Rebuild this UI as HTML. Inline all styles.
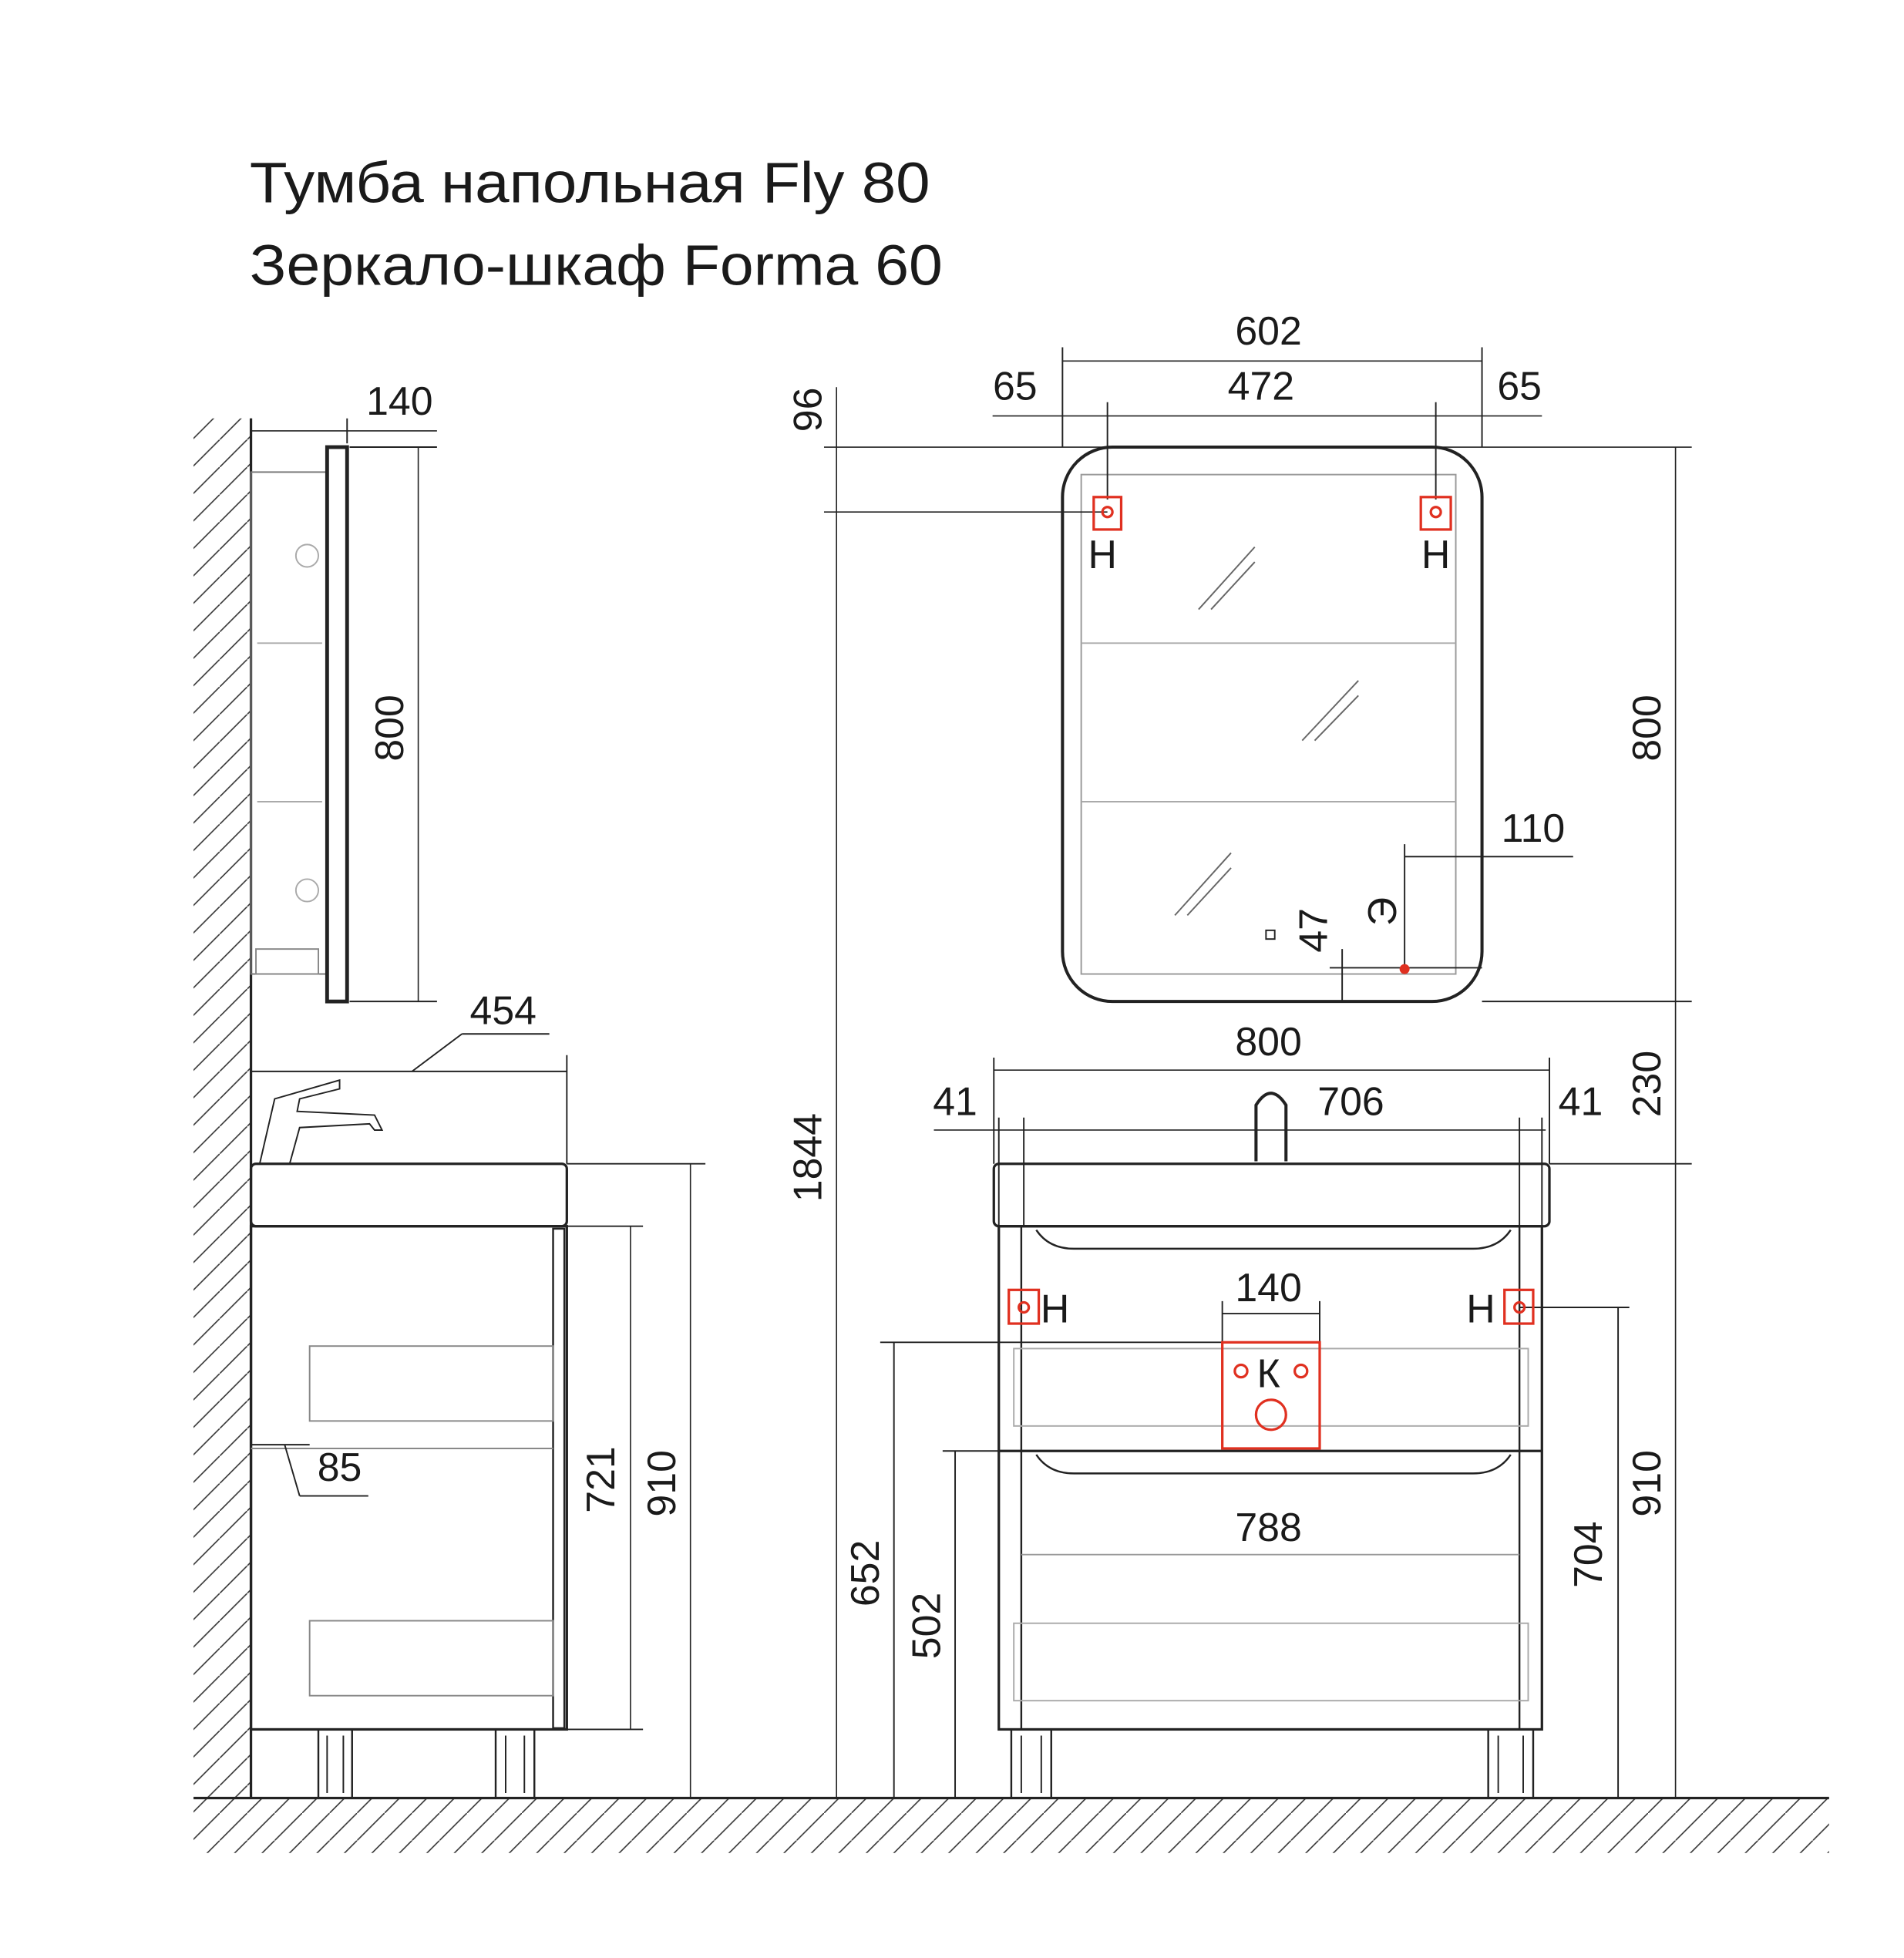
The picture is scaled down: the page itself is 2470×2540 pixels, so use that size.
<!DOCTYPE html>
<html><head><meta charset="utf-8"><style>
html,body{margin:0;padding:0;background:#fff}
svg{display:block}
text{font-family:"Liberation Sans","DejaVu Sans",sans-serif;fill:#1a1a1a}
</style></head><body>
<svg width="2470" height="2540" viewBox="0 0 1525 1568" xmlns="http://www.w3.org/2000/svg">
<defs>
<pattern id="h" width="22" height="22" patternUnits="userSpaceOnUse"><path d="M0 22 L22 0" stroke="#333" stroke-width="1"/></pattern>
</defs>
<rect width="1525" height="1568" fill="#fff"/>
<text x="200" y="162" font-size="46" textLength="545" lengthAdjust="spacingAndGlyphs">Тумба напольная Fly 80</text>
<text x="200" y="228" font-size="46" textLength="555" lengthAdjust="spacingAndGlyphs">Зеркало-шкаф Forma 60</text>

<rect x="155" y="335" width="46" height="1105" fill="url(#h)"/>
<line x1="201" y1="335" x2="201" y2="1440" stroke="#222" stroke-width="2"/>
<rect x="155" y="1440" width="1310" height="44" fill="url(#h)"/>
<line x1="155" y1="1440" x2="1465" y2="1440" stroke="#222" stroke-width="2"/>

<g stroke="#222" fill="none" stroke-width="1.2">
<rect x="201" y="378" width="61" height="402" stroke="#777"/>
<rect x="262" y="358" width="16" height="444" stroke-width="3"/>
<line x1="206" y1="515" x2="258" y2="515" stroke="#aaa"/>
<line x1="206" y1="642" x2="258" y2="642" stroke="#aaa"/>
<circle cx="246" cy="445" r="9" stroke="#aaa"/><circle cx="246" cy="713" r="9" stroke="#aaa"/>
<rect x="205" y="760" width="50" height="20" stroke="#888"/>
<line x1="201" y1="345" x2="350" y2="345" stroke-width="1"/>
<line x1="201" y1="335" x2="201" y2="355"/><line x1="278" y1="335" x2="278" y2="355"/>
<line x1="335" y1="358" x2="335" y2="802" stroke-width="1"/>
<line x1="280" y1="358" x2="350" y2="358"/><line x1="280" y1="802" x2="350" y2="802"/>
<line x1="201" y1="858" x2="454" y2="858"/><line x1="330" y1="858" x2="370" y2="828"/><line x1="370" y1="828" x2="440" y2="828"/>
<line x1="454" y1="845" x2="454" y2="932"/>
<path d="M208 932 L220 880 L272 865 L272 872 L240 880 L238 890 L300 893 L306 905 L300 905 L296 900 L240 903 L232 932"/>
<rect x="201" y="932" width="253" height="50" rx="4" stroke-width="2"/>
<rect x="201" y="982" width="253" height="403" stroke-width="2"/>
<rect x="443" y="984" width="9" height="400" stroke-width="1.5"/>
<rect x="248" y="1078" width="195" height="60" stroke="#888"/>
<rect x="248" y="1298" width="195" height="60" stroke="#888"/>
<line x1="201" y1="1160" x2="443" y2="1160" stroke="#888"/>
<rect x="255" y="1385" width="27" height="55" stroke-width="1.5"/>
<path d="M262 1390 V1436 M275 1390 V1436"/>
<rect x="397" y="1385" width="31" height="55" stroke-width="1.5"/>
<path d="M405 1390 V1436 M420 1390 V1436"/>
<line x1="553" y1="932" x2="553" y2="1440" stroke-width="1"/>
<line x1="454" y1="932" x2="565" y2="932"/>
<line x1="505" y1="982" x2="505" y2="1385" stroke-width="1"/>
<line x1="454" y1="982" x2="515" y2="982"/><line x1="454" y1="1385" x2="515" y2="1385"/>
<line x1="201" y1="1157" x2="248" y2="1157"/><line x1="228" y1="1157" x2="240" y2="1198"/><line x1="240" y1="1198" x2="295" y2="1198"/>

<rect x="851" y="358" width="336" height="444" rx="40" stroke-width="2.5"/>
<rect x="866" y="380" width="300" height="400" stroke="#999"/>
<line x1="866" y1="515" x2="1166" y2="515" stroke="#aaa"/>
<line x1="866" y1="642" x2="1166" y2="642" stroke="#aaa"/>
<path d="M960 488 L1005 438 M970 488 L1005 450 M1043 593 L1088 545 M1053 593 L1088 557 M941 733 L986 683 M951 733 L986 695" stroke="#666"/>
<rect x="1014" y="745" width="7" height="7"/>
<line x1="851" y1="289" x2="1187" y2="289" stroke-width="1"/>
<line x1="851" y1="278" x2="851" y2="358"/><line x1="1187" y1="278" x2="1187" y2="358"/>
<line x1="795" y1="333" x2="1235" y2="333" stroke-width="1"/>
<line x1="887" y1="322" x2="887" y2="400"/><line x1="1150" y1="322" x2="1150" y2="400"/>
<line x1="660" y1="358" x2="1355" y2="358" stroke-width="1"/>
<line x1="660" y1="410" x2="887" y2="410" stroke-width="1"/>
<line x1="670" y1="310" x2="670" y2="1440" stroke-width="1"/>
<line x1="1342" y1="358" x2="1342" y2="1440" stroke-width="1"/>
<line x1="1125" y1="686" x2="1260" y2="686"/><line x1="1125" y1="676" x2="1125" y2="780"/>
<line x1="1065" y1="775" x2="1187" y2="775"/>
<line x1="1075" y1="760" x2="1075" y2="802"/>
<line x1="1187" y1="802" x2="1355" y2="802"/>
<line x1="1241" y1="932" x2="1355" y2="932"/>
<path d="M1006 930 L1006 885 Q1018 866 1030 885 L1030 930" stroke-width="2.5"/>
<rect x="796" y="932" width="445" height="50" rx="4" stroke-width="2"/>
<rect x="800" y="982" width="435" height="403" stroke-width="2"/>
<line x1="818" y1="982" x2="818" y2="1385" stroke-width="1.5"/><line x1="1217" y1="982" x2="1217" y2="1385" stroke-width="1.5"/>
<path d="M830 985 Q840 1000 860 1000 L1180 1000 Q1200 1000 1210 985" stroke-width="1.5"/>
<line x1="800" y1="1162" x2="1235" y2="1162" stroke-width="2"/>
<path d="M830 1165 Q840 1180 860 1180 L1180 1180 Q1200 1180 1210 1165" stroke-width="1.5"/>
<rect x="812" y="1080" width="412" height="62" stroke="#aaa"/>
<rect x="812" y="1300" width="412" height="62" stroke="#aaa"/>
<line x1="818" y1="1245" x2="1217" y2="1245" stroke="#999"/>
<rect x="810" y="1385" width="32" height="55" stroke-width="1.5"/>
<path d="M818 1390 V1436 M834 1390 V1436"/>
<rect x="1192" y="1385" width="36" height="55" stroke-width="1.5"/>
<path d="M1200 1390 V1436 M1220 1390 V1436"/>
<line x1="796" y1="857" x2="1241" y2="857" stroke-width="1"/>
<line x1="796" y1="847" x2="796" y2="932"/><line x1="1241" y1="847" x2="1241" y2="932"/>
<line x1="748" y1="905" x2="1238" y2="905" stroke-width="1"/>
<line x1="800" y1="895" x2="800" y2="982"/><line x1="820" y1="895" x2="820" y2="982"/>
<line x1="1217" y1="895" x2="1217" y2="982"/><line x1="1235" y1="895" x2="1235" y2="982"/>
<line x1="979" y1="1052" x2="1057" y2="1052"/><line x1="979" y1="1042" x2="979" y2="1075"/><line x1="1057" y1="1042" x2="1057" y2="1075"/>
<line x1="705" y1="1075" x2="979" y2="1075"/><line x1="716" y1="1075" x2="716" y2="1440"/>
<line x1="755" y1="1162" x2="800" y2="1162"/><line x1="765" y1="1162" x2="765" y2="1440"/>
<line x1="1217" y1="1047" x2="1305" y2="1047"/><line x1="1296" y1="1047" x2="1296" y2="1440"/>
</g>

<g stroke="#e03020" fill="none" stroke-width="2">
<rect x="876" y="398" width="22" height="26"/><circle cx="887" cy="410" r="4"/>
<rect x="1138" y="398" width="24" height="26"/><circle cx="1150" cy="410" r="4"/>
<rect x="808" y="1033" width="24" height="27"/><circle cx="820" cy="1047" r="4"/>
<rect x="1205" y="1033" width="23" height="27"/><circle cx="1217" cy="1047" r="4"/>
<rect x="979" y="1075" width="78" height="85"/>
<circle cx="994" cy="1098" r="5"/><circle cx="1042" cy="1098" r="5"/><circle cx="1018" cy="1133" r="12"/>
</g>
<circle cx="1125" cy="776" r="4" fill="#e03020"/>

<g font-size="32" text-anchor="middle">
<text x="320" y="332">140</text>
<text x="403" y="820">454</text>
<text x="272" y="1186">85</text>
<text x="1016" y="276">602</text>
<text x="1010" y="320">472</text>
<text x="813" y="320">65</text>
<text x="1217" y="320">65</text>
<text x="1228" y="674">110</text>
<text x="1016" y="845">800</text>
<text x="1082" y="893">706</text>
<text x="765" y="893">41</text>
<text x="1266" y="893">41</text>
<text x="1016" y="1042">140</text>
<text x="1016" y="1234">788</text>
<text x="883" y="455">Н</text>
<text x="1150" y="455">Н</text>
<text x="845" y="1059">Н</text>
<text x="1186" y="1059">Н</text>
<text x="1016" y="1111">К</text>
<text transform="translate(323,583) rotate(-90)">800</text>
<text transform="translate(541,1188) rotate(-90)">910</text>
<text transform="translate(492,1185) rotate(-90)">721</text>
<text transform="translate(658,328) rotate(-90)">96</text>
<text transform="translate(658,927) rotate(-90)">1844</text>
<text transform="translate(1330,583) rotate(-90)">800</text>
<text transform="translate(1330,868) rotate(-90)">230</text>
<text transform="translate(1330,1188) rotate(-90)">910</text>
<text transform="translate(1283,1245) rotate(-90)">704</text>
<text transform="translate(704,1260) rotate(-90)">652</text>
<text transform="translate(753,1302) rotate(-90)">502</text>
<text transform="translate(1063,745) rotate(-90)">47</text>
<text transform="translate(1118,730) rotate(-90)">Э</text>
</g>
</svg>
</body></html>
